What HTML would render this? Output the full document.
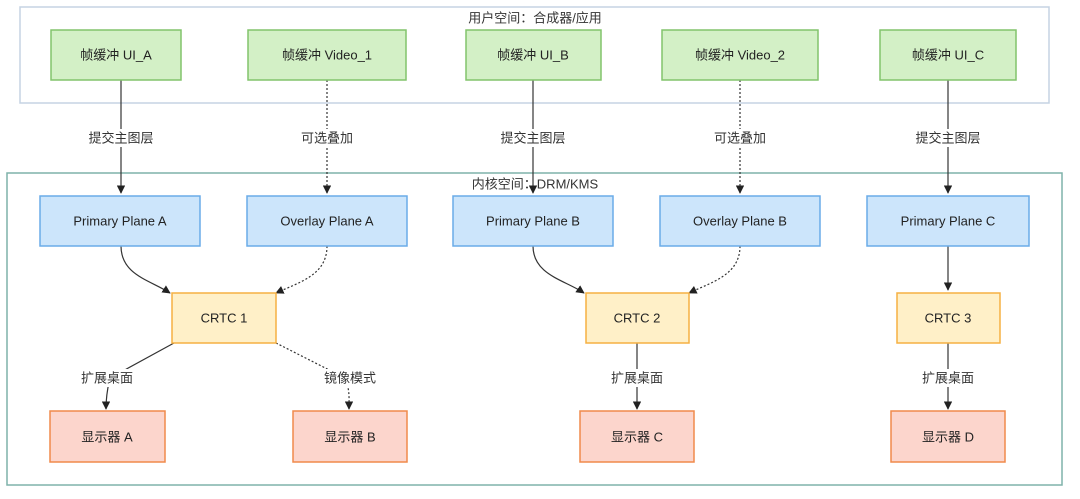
<!DOCTYPE html>
<html><head><meta charset="utf-8"><style>
html,body{margin:0;padding:0;background:#fff;width:1080px;height:499px;overflow:hidden}
text{font-family:"Liberation Sans","Noto Sans CJK SC",sans-serif;font-size:13px;fill:#333;text-anchor:middle;dominant-baseline:central}
.n text{fill:#222}
</style></head><body>
<svg width="1080" height="499" viewBox="0 0 1080 499" xmlns="http://www.w3.org/2000/svg">
<defs><marker id="a" viewBox="0 0 10 10" refX="9" refY="5" markerWidth="7" markerHeight="7" orient="auto"><path d="M0,0L10,5L0,10z" fill="#222"/></marker></defs>
<rect x="20" y="7" width="1029" height="96" fill="#fff" stroke="#c5d3e3" stroke-width="1.5"/>
<text x="535" y="18">用户空间：合成器/应用</text>
<rect x="7" y="173" width="1055" height="312" fill="#fff" stroke="#7fb2aa" stroke-width="1.5"/>
<text x="535" y="184">内核空间：DRM/KMS</text>

<g stroke="#333" stroke-width="1.2" fill="none">
<path d="M121,80V193" marker-end="url(#a)"/>
<path d="M327,80V193" stroke-dasharray="2,2" marker-end="url(#a)"/>
<path d="M533,80V193" marker-end="url(#a)"/>
<path d="M740,80V193" stroke-dasharray="2,2" marker-end="url(#a)"/>
<path d="M948,80V193" marker-end="url(#a)"/>
<path d="M121,246C121,275 150,280 170,293" marker-end="url(#a)"/>
<path d="M327,246C327,275 300,282 276,293" stroke-dasharray="2,2" marker-end="url(#a)"/>
<path d="M533,246C533,275 565,280 584,293" marker-end="url(#a)"/>
<path d="M740,246C740,275 712,282 689,293" stroke-dasharray="2,2" marker-end="url(#a)"/>
<path d="M948,246V290" marker-end="url(#a)"/>
<path d="M174,343L110,378C107,390 106,398 106,409" marker-end="url(#a)"/>
<path d="M276,343L345,378C350,390 349,398 349,409" stroke-dasharray="2,2" marker-end="url(#a)"/>
<path d="M637,343V409" marker-end="url(#a)"/>
<path d="M948,343V409" marker-end="url(#a)"/>
</g>
<g>
<rect x="80" y="129" width="82" height="18" fill="#fff"/><text x="121" y="138">提交主图层</text>
<rect x="294" y="129" width="66" height="18" fill="#fff"/><text x="327" y="138">可选叠加</text>
<rect x="492" y="129" width="82" height="18" fill="#fff"/><text x="533" y="138">提交主图层</text>
<rect x="707" y="129" width="66" height="18" fill="#fff"/><text x="740" y="138">可选叠加</text>
<rect x="907" y="129" width="82" height="18" fill="#fff"/><text x="948" y="138">提交主图层</text>
<rect x="76" y="369" width="62" height="18" fill="#fff"/><text x="107" y="378">扩展桌面</text>
<rect x="318" y="369" width="64" height="18" fill="#fff"/><text x="350" y="378">镜像模式</text>
<rect x="606" y="369" width="62" height="18" fill="#fff"/><text x="637" y="378">扩展桌面</text>
<rect x="917" y="369" width="62" height="18" fill="#fff"/><text x="948" y="378">扩展桌面</text>
</g>
<g class="n" stroke-width="1.5">
<g fill="#d3f0c6" stroke="#82c46c">
<rect x="51" y="30" width="130" height="50"/><rect x="248" y="30" width="158" height="50"/><rect x="466" y="30" width="135" height="50"/><rect x="662" y="30" width="156" height="50"/><rect x="880" y="30" width="136" height="50"/>
</g>
<g fill="#cce5fb" stroke="#6aace8">
<rect x="40" y="196" width="160" height="50"/><rect x="247" y="196" width="160" height="50"/><rect x="453" y="196" width="160" height="50"/><rect x="660" y="196" width="160" height="50"/><rect x="867" y="196" width="162" height="50"/>
</g>
<g fill="#fff0c8" stroke="#f5b042">
<rect x="172" y="293" width="104" height="50"/><rect x="586" y="293" width="103" height="50"/><rect x="897" y="293" width="103" height="50"/>
</g>
<g fill="#fcd5cc" stroke="#f08a4b">
<rect x="50" y="411" width="115" height="51"/><rect x="293" y="411" width="114" height="51"/><rect x="580" y="411" width="114" height="51"/><rect x="891" y="411" width="114" height="51"/>
</g>
<text x="116" y="55">帧缓冲 UI_A</text><text x="327" y="55">帧缓冲 Video_1</text><text x="533" y="55">帧缓冲 UI_B</text><text x="740" y="55">帧缓冲 Video_2</text><text x="948" y="55">帧缓冲 UI_C</text>
<text x="120" y="221">Primary Plane A</text><text x="327" y="221">Overlay Plane A</text><text x="533" y="221">Primary Plane B</text><text x="740" y="221">Overlay Plane B</text><text x="948" y="221">Primary Plane C</text>
<text x="224" y="318">CRTC 1</text><text x="637" y="318">CRTC 2</text><text x="948" y="318">CRTC 3</text>
<text x="107" y="437">显示器 A</text><text x="350" y="437">显示器 B</text><text x="637" y="437">显示器 C</text><text x="948" y="437">显示器 D</text>
</g>
</svg>
</body></html>
